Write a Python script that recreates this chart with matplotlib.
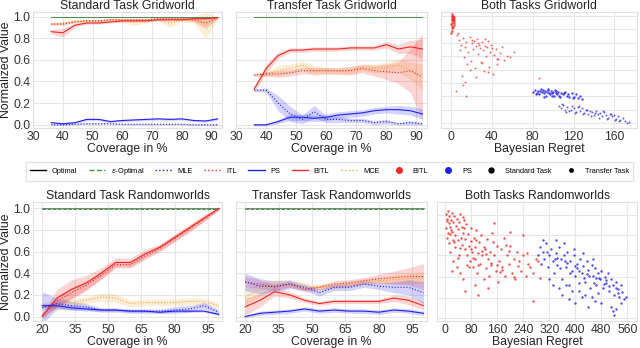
import numpy as np
import matplotlib
matplotlib.use("Agg")
import matplotlib.pyplot as plt
from matplotlib.lines import Line2D

plt.rcParams['font.family'] = ['Liberation Sans', 'DejaVu Sans']

RED = '#ee2a24'
BLUE = '#2020ee'
ORANGE = '#f2a93b'
GREEN = '#3a9a3a'
FS = 8.8

# ---------------- line panels ----------------
# Standard Task Gridworld
cov_g = [36, 40, 44, 48, 52, 56, 60, 64, 68, 72, 76, 80, 84, 88, 92]
sg_bitl = [0.86, 0.85, 0.92, 0.94, 0.94, 0.95, 0.96, 0.96, 0.96, 0.97, 0.97, 0.97, 0.98, 0.98, 0.99]
sg_itl = [0.93, 0.93, 0.95, 0.96, 0.96, 0.97, 0.97, 0.97, 0.97, 0.98, 0.98, 0.98, 0.97, 0.94, 0.99]
sg_mce = [0.93, 0.94, 0.96, 0.96, 0.96, 0.97, 0.96, 0.95, 0.96, 0.97, 0.94, 0.97, 0.97, 0.92, 0.98]
sg_ps = [0.02, 0.01, 0.02, 0.05, 0.05, 0.03, 0.04, 0.045, 0.05, 0.055, 0.05, 0.055, 0.04, 0.035, 0.055]
sg_mle = [0.0, 0.0, 0.005, 0.01, 0.01, 0.01, 0.005, 0.005, 0.005, 0.005, 0.005, 0.005, 0.0, 0.0, 0.0]
sg_err = dict(bitl=[0.02, 0.04, 0.02, 0.01, 0.01, 0.01, 0.01, 0.01, 0.01, 0.01, 0.01, 0.01, 0.01, 0.01, 0.01],
              itl=[0.01, 0.01, 0.01, 0.01, 0.01, 0.01, 0.01, 0.01, 0.01, 0.01, 0.01, 0.01, 0.02, 0.05, 0.01],
              mce=[0.01, 0.01, 0.01, 0.01, 0.01, 0.01, 0.02, 0.03, 0.02, 0.01, 0.04, 0.02, 0.03, 0.12, 0.01],
              ps=[0.01, 0.01, 0.01, 0.01, 0.01, 0.01, 0.01, 0.01, 0.01, 0.01, 0.01, 0.01, 0.01, 0.01, 0.01],
              mle=[0.005] * 15)

# Transfer Task Gridworld
tg_bitl = [0.33, 0.52, 0.64, 0.69, 0.69, 0.70, 0.70, 0.70, 0.71, 0.71, 0.71, 0.74, 0.70, 0.72, 0.70]
tg_itl = [0.46, 0.47, 0.47, 0.48, 0.50, 0.50, 0.50, 0.50, 0.50, 0.52, 0.50, 0.49, 0.48, 0.50, 0.44]
tg_mce = [0.46, 0.47, 0.50, 0.52, 0.55, 0.50, 0.50, 0.49, 0.50, 0.53, 0.52, 0.53, 0.55, 0.50, 0.44]
tg_ps = [0.0, 0.0, 0.03, 0.07, 0.07, 0.06, 0.07, 0.09, 0.10, 0.11, 0.13, 0.14, 0.14, 0.13, 0.10]
tg_mle = [0.32, 0.32, 0.20, 0.10, 0.05, 0.12, 0.05, 0.05, 0.04, 0.04, 0.02, 0.03, 0.01, 0.02, 0.01]
tg_err = dict(bitl=[0.03, 0.04, 0.03, 0.02, 0.02, 0.02, 0.02, 0.02, 0.02, 0.02, 0.02, 0.03, 0.04, 0.06, 0.09],
              itl=[0.01, 0.02, 0.03, 0.03, 0.03, 0.03, 0.03, 0.03, 0.04, 0.04, 0.05, 0.07, 0.10, 0.20, 0.40],
              mce=[0.01, 0.02, 0.05, 0.04, 0.04, 0.05, 0.03, 0.03, 0.03, 0.03, 0.04, 0.05, 0.06, 0.08, 0.12],
              ps=[0.01, 0.01, 0.02, 0.03, 0.03, 0.03, 0.03, 0.03, 0.03, 0.03, 0.03, 0.03, 0.04, 0.04, 0.05],
              mle=[0.01, 0.02, 0.07, 0.07, 0.04, 0.06, 0.03, 0.03, 0.02, 0.02, 0.02, 0.02, 0.01, 0.02, 0.01])

# Standard Task Randomworlds
cov_r = [20, 26.7, 33.3, 40, 46.7, 53.3, 60, 66.7, 73.3, 80, 86.7, 93.3, 100]
sr_bitl = [0.0, 0.17, 0.25, 0.31, 0.40, 0.50, 0.50, 0.58, 0.64, 0.73, 0.82, 0.91, 1.0]
sr_itl = [0.01, 0.14, 0.22, 0.29, 0.38, 0.48, 0.48, 0.56, 0.63, 0.72, 0.81, 0.90, 0.99]
sr_mce = [0.10, 0.10, 0.13, 0.15, 0.18, 0.17, 0.12, 0.13, 0.13, 0.13, 0.14, 0.14, 0.10]
sr_ps = [0.10, 0.10, 0.08, 0.07, 0.06, 0.06, 0.05, 0.05, 0.04, 0.05, 0.05, 0.05, 0.02]
sr_mle = [0.08, 0.12, 0.10, 0.09, 0.06, 0.06, 0.05, 0.05, 0.05, 0.06, 0.07, 0.10, 0.04]
sr_err = dict(bitl=[0.02, 0.08, 0.09, 0.07, 0.05, 0.04, 0.04, 0.04, 0.03, 0.03, 0.03, 0.03, 0.01],
              itl=[0.02, 0.05, 0.05, 0.04, 0.04, 0.03, 0.03, 0.03, 0.03, 0.03, 0.03, 0.02, 0.01],
              mce=[0.03, 0.04, 0.04, 0.03, 0.04, 0.04, 0.03, 0.03, 0.03, 0.03, 0.03, 0.03, 0.03],
              ps=[0.02, 0.02, 0.02, 0.02, 0.01, 0.01, 0.01, 0.01, 0.01, 0.01, 0.01, 0.01, 0.01],
              mle=[0.15, 0.05, 0.04, 0.03, 0.02, 0.02, 0.02, 0.02, 0.02, 0.03, 0.03, 0.03, 0.02])

# Transfer Task Randomworlds
tr_bitl = [0.09, 0.15, 0.23, 0.20, 0.15, 0.12, 0.14, 0.14, 0.14, 0.14, 0.17, 0.15, 0.10]
tr_itl = [0.32, 0.30, 0.27, 0.30, 0.25, 0.27, 0.30, 0.31, 0.33, 0.35, 0.36, 0.37, 0.37]
tr_mce = [0.18, 0.25, 0.30, 0.30, 0.28, 0.27, 0.28, 0.30, 0.32, 0.33, 0.34, 0.35, 0.36]
tr_ps = [0.0, 0.03, 0.04, 0.05, 0.07, 0.05, 0.06, 0.05, 0.05, 0.04, 0.06, 0.05, 0.03]
tr_mle = [0.32, 0.28, 0.28, 0.30, 0.27, 0.22, 0.27, 0.27, 0.30, 0.28, 0.27, 0.27, 0.22]
tr_err = dict(bitl=[0.08, 0.06, 0.04, 0.03, 0.02, 0.02, 0.02, 0.02, 0.02, 0.02, 0.03, 0.04, 0.04],
              itl=[0.05, 0.04, 0.03, 0.03, 0.02, 0.02, 0.03, 0.03, 0.03, 0.04, 0.06, 0.08, 0.12],
              mce=[0.08, 0.06, 0.04, 0.03, 0.03, 0.03, 0.03, 0.03, 0.03, 0.03, 0.04, 0.05, 0.05],
              ps=[0.01, 0.02, 0.02, 0.02, 0.02, 0.02, 0.02, 0.02, 0.02, 0.02, 0.02, 0.02, 0.02],
              mle=[0.08, 0.07, 0.05, 0.04, 0.03, 0.03, 0.03, 0.03, 0.03, 0.03, 0.05, 0.07, 0.10])

# ---------------- scatter panels ----------------
# Both Tasks Gridworld
g_bitl_std_x = [0.5, 1.2, 2.0, 2.8, 0.8, 1.6, 2.4, 0.3, 1.0, 1.9, 2.6, 0.6, 1.4, 2.2, 3.0, 0.9, 1.7, 0.4, 1.1, 2.5, 0.2, 0.7]
g_bitl_std_y = [0.97, 0.96, 0.95, 0.94, 0.93, 0.92, 0.91, 0.90, 0.94, 0.97, 0.89, 0.88, 0.95, 0.93, 0.96,
                0.91, 0.87, 0.84, 0.98, 0.92, 0.82, 0.86]
g_bitl_tr_x = [8, 10, 12, 14, 15, 17, 18, 20, 21, 22, 24, 25, 26, 27, 28, 30, 31, 33, 34, 35, 36, 38, 40, 42,
               44, 46, 48, 50, 52, 55, 58, 62, 6, 9, 13, 16, 19, 23, 29, 32, 37, 41, 45, 11, 14, 18, 24, 30,
               36, 45, 5, 12, 15, 7, 20, 26, 33, 39, 86]
g_bitl_tr_y = [0.76, 0.72, 0.78, 0.70, 0.74, 0.66, 0.79, 0.73, 0.68, 0.75, 0.71, 0.77, 0.64, 0.72, 0.69,
               0.74, 0.67, 0.71, 0.62, 0.70, 0.75, 0.66, 0.69, 0.63, 0.68, 0.60, 0.65, 0.70, 0.59, 0.62,
               0.61, 0.66, 0.80, 0.67, 0.61, 0.55, 0.58, 0.52, 0.57, 0.49, 0.53, 0.47, 0.55, 0.45, 0.40,
               0.50, 0.44, 0.56, 0.48, 0.60, 0.32, 0.37, 0.28, 0.82, 0.76, 0.73, 0.77, 0.72, 0.43]
g_ps_std_x = [80, 82, 84, 85, 86, 88, 89, 90, 91, 92, 93, 94, 95, 96, 97, 98, 99, 100, 101, 102, 103, 104,
              105, 106, 108, 110, 112, 114, 116, 118, 120, 122, 124, 126, 128, 83, 87, 91, 95, 99, 103, 107,
              111, 115, 119]
g_ps_std_y = [0.31, 0.33, 0.30, 0.32, 0.29, 0.34, 0.31, 0.33, 0.30, 0.32, 0.28, 0.31, 0.33, 0.30, 0.29,
              0.32, 0.30, 0.31, 0.28, 0.33, 0.30, 0.29, 0.31, 0.28, 0.30, 0.29, 0.31, 0.28, 0.27, 0.30,
              0.27, 0.29, 0.26, 0.28, 0.25, 0.29, 0.32, 0.27, 0.34, 0.28, 0.32, 0.27, 0.30, 0.29, 0.26]
g_ps_tr_x = [106, 108, 110, 112, 114, 116, 118, 120, 122, 124, 126, 128, 130, 132, 134, 136, 138, 140, 142,
             144, 146, 148, 150, 152, 154, 156, 158, 160, 162, 164, 166, 168, 170, 174, 109, 113, 117, 121,
             125, 129, 133, 137, 141, 145, 149, 153, 157, 161, 165, 172]
g_ps_tr_y = [0.19, 0.17, 0.20, 0.16, 0.18, 0.15, 0.19, 0.17, 0.14, 0.18, 0.15, 0.17, 0.13, 0.16, 0.12, 0.15,
             0.14, 0.11, 0.15, 0.12, 0.13, 0.10, 0.14, 0.11, 0.09, 0.12, 0.10, 0.11, 0.08, 0.10, 0.07, 0.09,
             0.06, 0.05, 0.21, 0.14, 0.16, 0.13, 0.19, 0.12, 0.16, 0.10, 0.13, 0.09, 0.15, 0.08, 0.12, 0.07,
             0.06, 0.04]

# Both Tasks Randomworlds
r_bitl_x = [2, 5, 8, 10, 12, 15, 18, 20, 22, 25, 28, 30, 33, 35, 38, 40, 42, 45, 48, 50, 52, 55, 58, 60, 62,
            65, 68, 70, 72, 75, 78, 80, 82, 85, 88, 90, 92, 95, 98, 100, 104, 108, 110, 114, 118, 120, 124,
            128, 130, 135, 138, 142, 145, 150, 155, 158, 162, 165, 170, 175, 180, 185, 190, 195, 200, 205,
            210, 215, 220, 225, 232, 240, 248, 255, 262, 270, 278, 10, 15, 25, 5, 35, 45, 55, 20, 100, 60,
            130, 90, 270, 150, 200, 240, 3, 14, 28, 46, 66, 84, 112, 140, 176, 212, 285, 292,
            6, 18, 30, 42, 54, 72, 96, 122, 148, 168, 188, 228, 252, 9, 24, 38, 58, 78, 102, 126, 160, 196]
r_bitl_y = [0.90, 0.86, 0.92, 0.82, 0.88, 0.79, 0.85, 0.91, 0.75, 0.83, 0.88, 0.72, 0.80, 0.86, 0.68, 0.77,
            0.83, 0.90, 0.70, 0.64, 0.79, 0.74, 0.85, 0.60, 0.69, 0.81, 0.55, 0.73, 0.63, 0.50, 0.67, 0.78,
            0.58, 0.45, 0.70, 0.62, 0.52, 0.76, 0.40, 0.57, 0.66, 0.48, 0.72, 0.55, 0.35, 0.62, 0.44, 0.69,
            0.52, 0.38, 0.58, 0.47, 0.74, 0.55, 0.42, 0.63, 0.33, 0.50, 0.60, 0.45, 0.70, 0.38, 0.55, 0.48,
            0.63, 0.40, 0.52, 0.35, 0.58, 0.46, 0.42, 0.55, 0.38, 0.48, 0.45, 0.40, 0.52, 0.65, 0.58, 0.50,
            0.70, 0.45, 0.40, 0.35, 0.42, 0.22, 0.25, 0.28, 0.30, 0.17, 0.82, 0.75, 0.72, 0.78, 0.73, 0.66,
            0.61, 0.47, 0.53, 0.59, 0.49, 0.43, 0.37, 0.50, 0.36,
            0.84, 0.76, 0.62, 0.55, 0.87, 0.45, 0.68, 0.60, 0.66, 0.41, 0.64, 0.50, 0.57, 0.74, 0.68, 0.53,
            0.78, 0.60, 0.47, 0.56, 0.47, 0.59]
r_ps_x = [285, 290, 295, 300, 305, 310, 315, 320, 325, 330, 335, 340, 345, 350, 355, 360, 365, 370, 375, 380,
          385, 390, 395, 400, 405, 410, 415, 420, 425, 430, 435, 440, 445, 450, 455, 460, 465, 470, 475, 480,
          485, 490, 495, 500, 505, 510, 515, 520, 525, 530, 535, 540, 545, 550, 360, 380, 400, 420, 440, 460,
          480, 350, 370, 390, 410, 430, 450, 470, 330, 340, 320, 515, 520, 525, 510, 540, 555, 300, 365,
          395, 425, 455, 345, 375, 405, 435, 465, 495, 525,
          312, 338, 352, 368, 384, 398, 412, 428, 442, 458, 472, 488, 502, 532]
r_ps_y = [0.55, 0.62, 0.48, 0.58, 0.52, 0.65, 0.45, 0.55, 0.60, 0.50, 0.40, 0.57, 0.47, 0.62, 0.52, 0.35,
          0.55, 0.45, 0.58, 0.30, 0.50, 0.42, 0.55, 0.38, 0.48, 0.25, 0.52, 0.40, 0.46, 0.33, 0.50, 0.43,
          0.28, 0.47, 0.38, 0.44, 0.30, 0.40, 0.35, 0.42, 0.28, 0.37, 0.32, 0.40, 0.25, 0.35, 0.30, 0.22,
          0.33, 0.27, 0.20, 0.30, 0.24, 0.18, 0.22, 0.18, 0.15, 0.20, 0.12, 0.17, 0.15, 0.28, 0.30, 0.25,
          0.32, 0.22, 0.20, 0.23, 0.30, 0.68, 0.35, 0.08, 0.05, 0.10, 0.12, 0.15, 0.20, 0.68, 0.65, 0.60,
          0.57, 0.52, 0.53, 0.49, 0.44, 0.39, 0.36, 0.34, 0.28,
          0.58, 0.52, 0.44, 0.50, 0.40, 0.46, 0.42, 0.36, 0.38, 0.32, 0.36, 0.31, 0.29, 0.23]

line_panels = [
    ("Standard Task Gridworld", cov_g, sg_bitl, sg_itl, sg_mce, sg_ps, sg_mle, sg_err),
    ("Transfer Task Gridworld", cov_g, tg_bitl, tg_itl, tg_mce, tg_ps, tg_mle, tg_err),
    ("Standard Task Randomworlds", cov_r, sr_bitl, sr_itl, sr_mce, sr_ps, sr_mle, sr_err),
    ("Transfer Task Randomworlds", cov_r, tr_bitl, tr_itl, tr_mce, tr_ps, tr_mle, tr_err),
]

fig = plt.figure(figsize=(6.4, 3.48), dpi=100)
pos = {
    0: [0.052, 0.632, 0.295, 0.333],
    1: [0.369, 0.632, 0.298, 0.333],
    2: [0.052, 0.078, 0.295, 0.342],
    3: [0.369, 0.078, 0.298, 0.342],
}


def style(ax):
    ax.grid(True, color='#e6e6e6', lw=0.8)
    ax.set_axisbelow(True)
    for s in ax.spines.values():
        s.set_color('#e0e0e0')
        s.set_linewidth(0.8)
    ax.tick_params(length=0, labelsize=FS, pad=2, colors='#333333')


for i, (title, x, bitl, itl, mce, ps, mle, err) in enumerate(line_panels):
    ax = fig.add_axes(pos[i])
    style(ax)
    x = np.array(x)
    ones = np.ones(len(x))
    ax.plot(x, ones, color='#555555', lw=0.5)
    ax.fill_between(x, ones * 0.985, ones * 0.998, color=GREEN, alpha=0.25, lw=0)
    ax.plot(x, ones * 0.993, color=GREEN, lw=0.7, ls='--')
    for vals, key, c, ls in [(mce, 'mce', ORANGE, ':'), (itl, 'itl', RED, ':'), (bitl, 'bitl', RED, '-'),
                             (mle, 'mle', BLUE, ':'), (ps, 'ps', BLUE, '-')]:
        v = np.array(vals)
        e = np.array(err[key])
        ax.fill_between(x, v - e, v + e, color=c, alpha=0.2, lw=0)
        ax.plot(x, v, color=c, lw=0.8, ls=ls)
    ax.set_title(title, fontsize=FS, pad=1.5, color='#222222')
    ax.set_xlabel("Coverage in %", fontsize=FS, labelpad=0, color='#222222')
    ax.set_yticks([0.0, 0.2, 0.4, 0.6, 0.8, 1.0])
    if i < 2:
        ax.set_xlim(30, 93.5)
        ax.set_ylim(-0.03, 1.04)
        ax.set_xticks([30, 40, 50, 60, 70, 80, 90])
    else:
        ax.set_xlim(16, 101.5)
        ax.set_ylim(-0.04, 1.06)
        ax.set_xticks([20, 35, 50, 65, 80, 95])
    if i % 2 == 0:
        ax.set_ylabel("Normalized Value", fontsize=FS, labelpad=1, color='#222222')
    else:
        ax.tick_params(labelleft=False)

# scatter panels
ax = fig.add_axes([0.689, 0.632, 0.306, 0.333])
style(ax)
ax.scatter(g_bitl_std_x, g_bitl_std_y, s=3, color=RED, alpha=0.8, lw=0)
ax.scatter(g_bitl_tr_x, g_bitl_tr_y, s=2, color=RED, alpha=0.7, lw=0)
ax.scatter(g_ps_std_x, g_ps_std_y, s=3, color=BLUE, alpha=0.8, lw=0)
ax.scatter(g_ps_tr_x, g_ps_tr_y, s=2, color=BLUE, alpha=0.7, lw=0)
ax.set_xlim(-10, 182)
ax.set_ylim(0, 1)
ax.set_xticks([0, 40, 80, 120, 160])
ax.set_yticks(np.linspace(0.04, 0.97, 9))
ax.tick_params(labelleft=False)
ax.set_title("Both Tasks Gridworld", fontsize=FS, pad=1.5, color='#222222')
ax.set_xlabel("Bayesian Regret", fontsize=FS, labelpad=0, color='#222222')

ax = fig.add_axes([0.683, 0.078, 0.3125, 0.342])
style(ax)
ax.scatter(r_bitl_x, r_bitl_y, s=3, color=RED, alpha=0.8, lw=0)
ax.scatter(r_ps_x, r_ps_y, s=3, color=BLUE, alpha=0.8, lw=0)
ax.set_xlim(-25, 590)
ax.set_ylim(0, 1)
ax.set_xticks([0, 80, 160, 240, 320, 400, 480, 560])
ax.set_yticks([0.02, 0.19, 0.37, 0.55, 0.72, 0.89])
ax.tick_params(labelleft=False)
ax.set_title("Both Tasks Randomworlds", fontsize=FS, pad=1.5, color='#222222')
ax.set_xlabel("Bayesian Regret", fontsize=FS, labelpad=0, color='#222222')

# legend
handles = [
    Line2D([], [], color='black', lw=1),
    Line2D([], [], color=GREEN, lw=1, ls='--'),
    Line2D([], [], color=BLUE, lw=1, ls=':'),
    Line2D([], [], color=RED, lw=1, ls=':'),
    Line2D([], [], color=BLUE, lw=1),
    Line2D([], [], color=RED, lw=1),
    Line2D([], [], color=ORANGE, lw=1, ls=':'),
    Line2D([], [], color=RED, lw=0, marker='o', markersize=4),
    Line2D([], [], color=BLUE, lw=0, marker='o', markersize=4),
    Line2D([], [], color='black', lw=0, marker='o', markersize=3.5),
    Line2D([], [], color='black', lw=0, marker='o', markersize=2.5),
]
labels = ["Optimal", r"$\epsilon$-Optimal", "MLE", "ITL", "PS", "BITL", "MCE", "BITL", "PS",
          "Standard Task", "Transfer Task"]
fig.legend(handles, labels, loc='center', bbox_to_anchor=(0.035, 0.482, 0.96, 0.05), mode='expand',
           ncol=11, fontsize=5.3, frameon=True, edgecolor='#dddddd', fancybox=False,
           handlelength=2.2, handletextpad=0.8, columnspacing=0.8, borderpad=0.5)

fig.savefig("out.png", dpi=100)
